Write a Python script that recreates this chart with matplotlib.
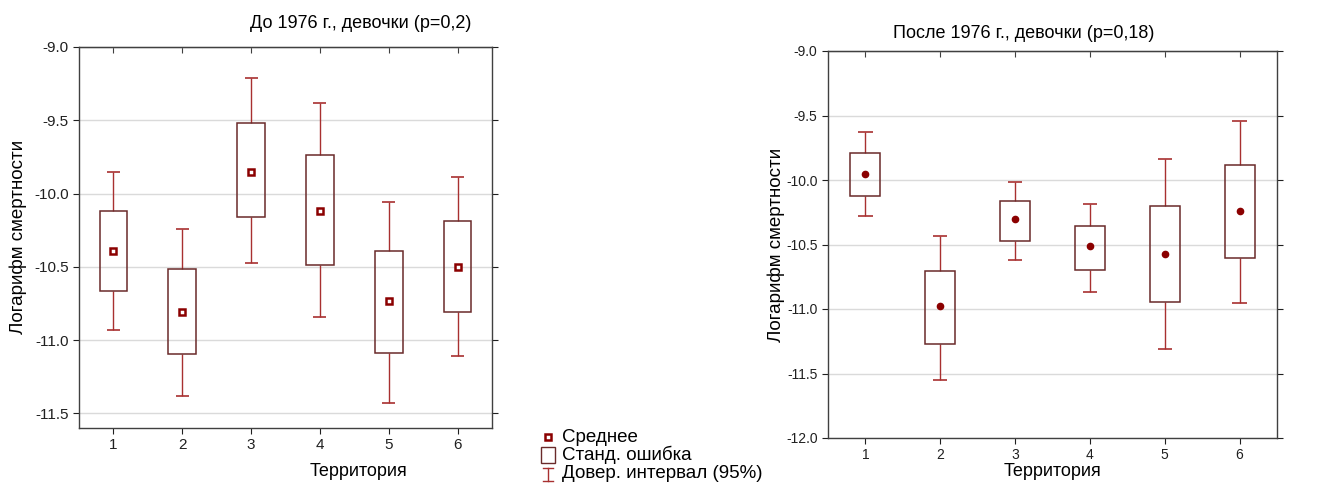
import matplotlib.pyplot as plt
from matplotlib.patches import Rectangle
from matplotlib.lines import Line2D

plt.rcParams['font.family'] = ['Liberation Sans', 'DejaVu Sans']

# данные: территории, средние, станд. ошибка (границы), доверит. интервал (границы)
terr = [1, 2, 3, 4, 5, 6]

do_mean = [-10.39, -10.805, -9.85, -10.12, -10.733, -10.50]
do_se_hi = [-10.117, -10.517, -9.518, -9.736, -10.394, -10.185]
do_se_lo = [-10.662, -11.098, -10.163, -10.487, -11.087, -10.805]
do_ci_hi = [-9.856, -10.242, -9.209, -9.379, -10.06, -9.886]
do_ci_lo = [-10.932, -11.382, -10.476, -10.844, -11.427, -11.107]

po_mean = [-9.955, -10.98, -10.304, -10.51, -10.57, -10.239]
po_se_hi = [-9.79, -10.709, -10.159, -10.353, -10.198, -9.886]
po_se_lo = [-10.123, -11.275, -10.472, -10.699, -10.947, -10.606]
po_ci_hi = [-9.627, -10.436, -10.012, -10.188, -9.834, -9.54]
po_ci_lo = [-10.281, -11.551, -10.621, -10.869, -11.311, -10.955]

red = '#8b0000'
wcol = '#a83030'
bcol = '#6a2a2a'

W, H = 1325, 483
fig = plt.figure(figsize=(W / 100, H / 100), dpi=100)


def panel(rect, mean, se_hi, se_lo, ci_hi, ci_lo, ylim, yticks, tsize, marker, msize):
    ax = fig.add_axes(rect)
    for i, x in enumerate(terr):
        ax.vlines(x, se_hi[i], ci_hi[i], color=wcol, lw=1, zorder=2)
        ax.vlines(x, ci_lo[i], se_lo[i], color=wcol, lw=1, zorder=2)
        ax.hlines([ci_hi[i], ci_lo[i]], x - 0.095, x + 0.095, color=wcol, lw=1.2, zorder=2)
    ax.bar(terr, [h - l for h, l in zip(se_hi, se_lo)], bottom=se_lo, width=0.4,
           fill=False, edgecolor=bcol, lw=1.1, zorder=3)
    if marker == 's':
        ax.plot(terr, mean, 's', ms=msize, mfc='white', mec=red, mew=1.8, zorder=4, ls='none')
    else:
        ax.plot(terr, mean, 'o', ms=msize, color=red, zorder=4, ls='none')
    ax.set_xlim(0.5, 6.5)
    ax.set_ylim(*ylim)
    ax.set_xticks(terr)
    ax.set_yticks(yticks)
    ax.set_yticklabels(['%.1f' % v for v in yticks])
    ax.yaxis.grid(True, color='#dadada', lw=1)
    ax.set_axisbelow(True)
    ax.tick_params(labelsize=tsize, colors='#202020', direction='out', length=4, right=True)
    for s in ax.spines.values():
        s.set_color('#404040')
        s.set_linewidth(1)
    top = ax.secondary_xaxis('top')
    top.set_xticks(terr)
    top.tick_params(direction='in', length=4, labeltop=False, colors='#404040')
    return ax


ax1 = panel([79 / W, 1 - 428 / H, 413 / W, 381 / H], do_mean, do_se_hi, do_se_lo, do_ci_hi, do_ci_lo,
            (-11.6, -9.0), [-11.5, -11.0, -10.5, -10.0, -9.5, -9.0], 11, 's', 4.5)
ax2 = panel([828 / W, 1 - 438 / H, 449 / W, 387 / H], po_mean, po_se_hi, po_se_lo, po_ci_hi, po_ci_lo,
            (-12.0, -9.0), [-12.0, -11.5, -11.0, -10.5, -10.0, -9.5, -9.0], 10, 'o', 4.5)

fig.text(361 / W, 1 - 24 / H, 'До 1976 г., девочки (p=0,2)', ha='center', va='center', fontsize=13)
fig.text(1024 / W, 1 - 33 / H, 'После 1976 г., девочки (p=0,18)', ha='center', va='center', fontsize=13)
fig.text(358 / W, 1 - 471 / H, 'Территория', ha='center', va='center', fontsize=13)
fig.text(1053 / W, 1 - 472 / H, 'Территория', ha='center', va='center', fontsize=13)
fig.text(18 / W, 1 - 237 / H, 'Логарифм смертности', ha='center', va='center', rotation=90, fontsize=13.5)
fig.text(776 / W, 1 - 245 / H, 'Логарифм смертности', ha='center', va='center', rotation=90, fontsize=13.5)

# легенда
lg = fig.add_axes([530 / W, 0, 250 / W, 55 / H])
lg.set_xlim(530, 780)
lg.set_ylim(483, 428)
lg.axis('off')
lg.plot(548, 437, 's', ms=4, mfc='white', mec=red, mew=1.8)
lg.add_patch(Rectangle((541, 447), 14, 16, fill=False, edgecolor=bcol, lw=1))
lg.add_line(Line2D([548, 548], [468, 481], color=wcol, lw=1))
lg.add_line(Line2D([543, 553], [468, 468], color=wcol, lw=1))
lg.add_line(Line2D([543, 553], [481, 481], color=wcol, lw=1))
lg.text(562, 437, 'Среднее', va='center', fontsize=13.5)
lg.text(562, 455, 'Станд. ошибка', va='center', fontsize=13.5)
lg.text(562, 474, 'Довер. интервал (95%)', va='center', fontsize=13.5)

fig.savefig('out.png', dpi=100)
